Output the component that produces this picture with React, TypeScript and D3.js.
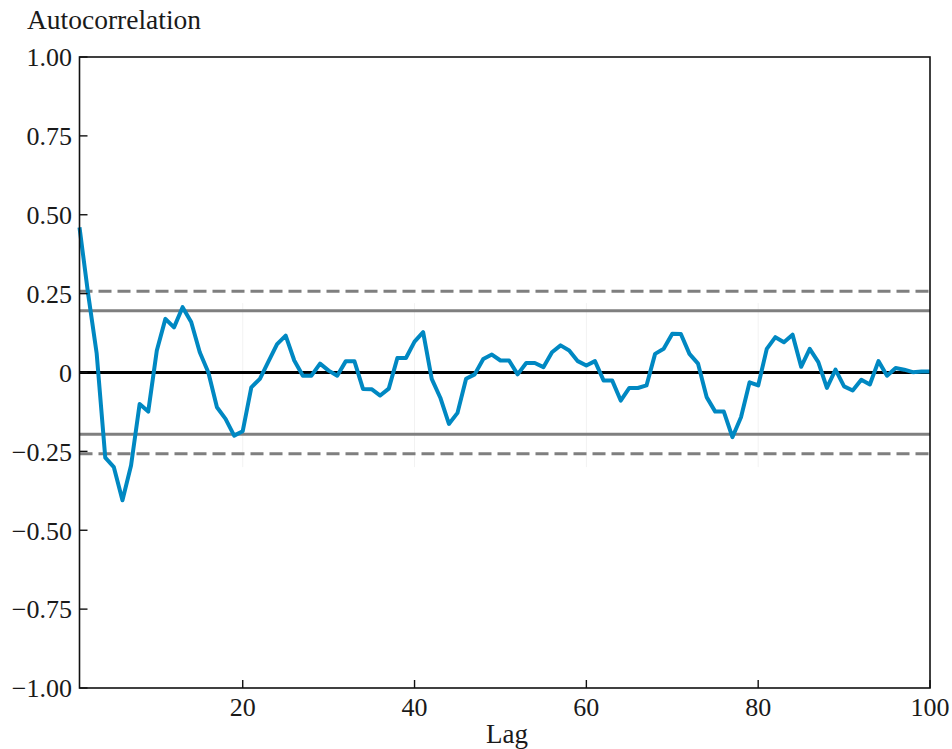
import React from "react";
import * as d3 from "d3";

const lags: number[] = Array.from({ length: 100 }, (_, i) => i + 1);
const acf: number[] = [
  0.46, 0.25, 0.06, -0.27, -0.3, -0.405, -0.295, -0.1, -0.124, 0.07,
  0.17, 0.143, 0.207, 0.16, 0.064, 0.0, -0.11, -0.147, -0.2, -0.186,
  -0.047, -0.02, 0.035, 0.09, 0.117, 0.038, -0.01, -0.01, 0.028, 0.006,
  -0.01, 0.036, 0.036, -0.052, -0.053, -0.073, -0.051, 0.046, 0.046, 0.098,
  0.128, -0.02, -0.08, -0.163, -0.128, -0.02, -0.006, 0.043, 0.057, 0.038,
  0.038, -0.006, 0.03, 0.03, 0.017, 0.064, 0.086, 0.07, 0.036, 0.022,
  0.036, -0.025, -0.025, -0.089, -0.049, -0.049, -0.041, 0.059, 0.075, 0.123,
  0.122, 0.059, 0.028, -0.078, -0.124, -0.124, -0.205, -0.142, -0.031, -0.041,
  0.075, 0.112, 0.096, 0.12, 0.018, 0.075, 0.033, -0.049, 0.009, -0.044,
  -0.057, -0.023, -0.038, 0.036, -0.01, 0.014, 0.009, 0.001, 0.003, 0.003,
];
const yTicks: number[] = [1, 0.75, 0.5, 0.25, 0, -0.25, -0.5, -0.75, -1];
const xTicks: number[] = [20, 40, 60, 80, 100];
const N = 100;
const z95 = 1.959963984540054;
const z99 = 2.5758293035489;

const fmt = (v: number) =>
  v === 0 ? "0" : (v < 0 ? "\u2212" : "") + Math.abs(v).toFixed(2);

export default function App() {
  const W = 952;
  const H = 749;
  const L = 79.5;
  const R = 930;
  const T = 57;
  const B = 688;
  const x = d3.scaleLinear().domain([1, 100]).range([L, R]);
  const y = d3.scaleLinear().domain([-1, 1]).range([B, T]);
  const line = d3
    .line<number>()
    .x((_, i) => x(lags[i]))
    .y((d) => y(d));
  const font = "'Liberation Serif', 'Times New Roman', serif";
  const bands = [
    { v: z99 / Math.sqrt(N), dash: "13,6" },
    { v: z95 / Math.sqrt(N), dash: undefined },
    { v: -z95 / Math.sqrt(N), dash: undefined },
    { v: -z99 / Math.sqrt(N), dash: "13,6" },
  ];
  return (
    <svg
      width={W}
      height={H}
      style={{ position: "absolute", left: 0, top: 0, background: "#fff" }}
      fontFamily={font}
    >
      {xTicks.slice(0, 4).map((t) => (
        <line key={"g" + t} x1={x(t)} x2={x(t)} y1={y(0.22)} y2={y(-0.3)} stroke="#f2f2f2" strokeWidth={1} />
      ))}
      {bands.map((b, i) => (
        <line
          key={i}
          x1={L}
          x2={R}
          y1={y(b.v)}
          y2={y(b.v)}
          stroke="#7f7f7f"
          strokeWidth={3}
          strokeDasharray={b.dash}
        />
      ))}
      <line x1={L} x2={R} y1={y(0)} y2={y(0)} stroke="#000" strokeWidth={3} />
      <path d={line(acf) || ""} fill="none" stroke="#0088c2" strokeWidth={4} strokeLinejoin="round" />
      <rect x={L} y={T} width={R - L} height={B - T} fill="none" stroke="#111" strokeWidth={1.6} />
      {yTicks.map((t) => (
        <g key={"y" + t}>
          <line x1={L} x2={L + 8} y1={y(t)} y2={y(t)} stroke="#111" strokeWidth={1.4} />
          <text x={72} y={y(t)} dy="0.36em" textAnchor="end" fontSize={26} fill="#1a1a1a">
            {fmt(t)}
          </text>
        </g>
      ))}
      {xTicks.map((t) => (
        <g key={"x" + t}>
          <line x1={x(t)} x2={x(t)} y1={B} y2={B - 8} stroke="#111" strokeWidth={1.4} />
          <text x={x(t)} y={716} textAnchor="middle" fontSize={26} fill="#1a1a1a">
            {t}
          </text>
        </g>
      ))}
      <text x={507} y={743} textAnchor="middle" fontSize={27} fill="#1a1a1a">
        Lag
      </text>
      <text x={27} y={29} fontSize={27.5} fill="#1a1a1a">
        Autocorrelation
      </text>
    </svg>
  );
}
